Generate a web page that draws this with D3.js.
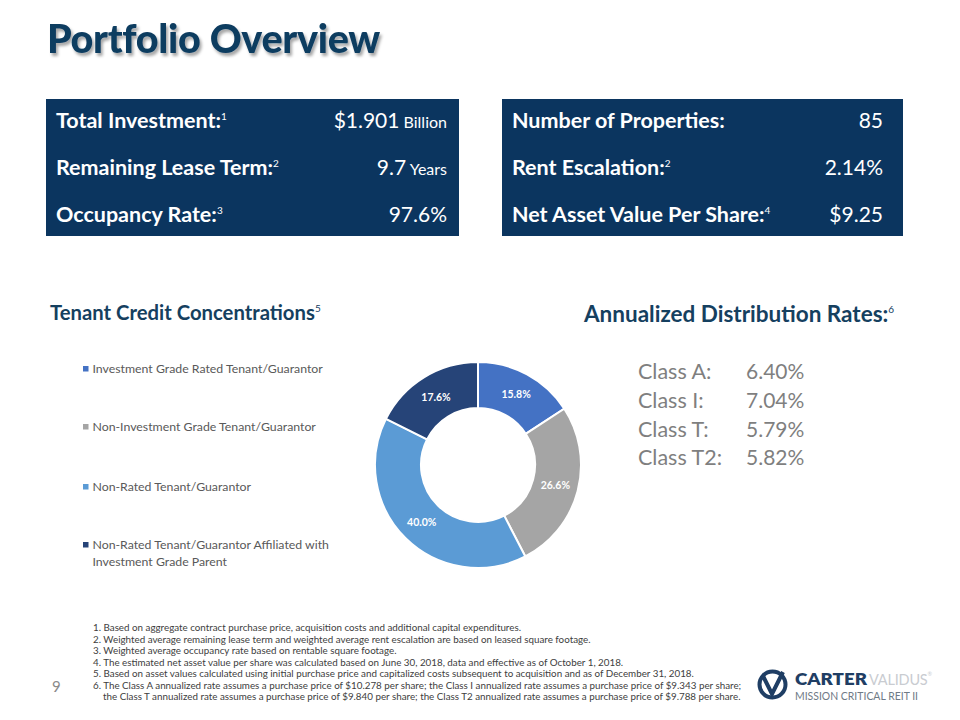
<!DOCTYPE html>
<html><head><meta charset="utf-8">
<script src="https://cdn.jsdelivr.net/npm/d3@7"></script>
<style>
body{margin:0;background:#fff;}
svg{display:block;font-family:Lato,"Open Sans",sans-serif;}
</style></head>
<body>
<svg id="c" width="960" height="720"></svg>
<script>
// ---- data ----
const categories = ["Investment Grade Rated Tenant/Guarantor","Non-Investment Grade Tenant/Guarantor","Non-Rated Tenant/Guarantor","Non-Rated Tenant/Guarantor Affiliated with|Investment Grade Parent"];
const shares = [15.8, 26.6, 40.0, 17.6];
const sliceColors = ["#4472C4","#A5A5A5","#5B9BD5","#264478"];
const leftLabels = ["Total Investment:","Remaining Lease Term:","Occupancy Rate:"];
const leftSup = ["1","2","3"];
const leftValues = ["$1.901","9.7","97.6%"];
const leftUnits = ["Billion","Years",""];
const rightLabels = ["Number of Properties:","Rent Escalation:","Net Asset Value Per Share:"];
const rightSup = ["","2","4"];
const rightValues = ["85","2.14%","$9.25"];
const classNames = ["Class A:","Class I:","Class T:","Class T2:"];
const classRates = ["6.40%","7.04%","5.79%","5.82%"];
const footnotes = [
"1. Based on aggregate contract purchase price, acquisition costs and additional capital expenditures.",
"2. Weighted average remaining lease term and weighted average rent escalation are based on leased square footage.",
"3. Weighted average occupancy rate based on rentable square footage.",
"4. The estimated net asset value per share was calculated based on June 30, 2018, data and effective as of October 1, 2018.",
"5. Based on asset values calculated using initial purchase price and capitalized costs subsequent to acquisition and as of December 31, 2018.",
"6. The Class A annualized rate assumes a purchase price of $10.278 per share; the Class I annualized rate assumes a purchase price of $9.343 per share;",
"    the Class T annualized rate assumes a purchase price of $9.840 per share; the Class T2 annualized rate assumes a purchase price of $9.788 per share."
];

const svg = d3.select("#c");
const navy = "#0B355F", headBlue = "#15405F";

// shadow filter
const defs = svg.append("defs");
const f = defs.append("filter").attr("id","sh").attr("x","-5%").attr("y","-20%").attr("width","115%").attr("height","160%");
f.append("feDropShadow").attr("dx",2).attr("dy",3).attr("stdDeviation",1.6).attr("flood-color","#000").attr("flood-opacity",0.35);

// Title
svg.append("text").attr("x",47).attr("y",53).attr("font-size",39.5).attr("font-weight",900)
  .attr("fill","#0E3C60").attr("filter","url(#sh)").attr("letter-spacing",-0.3).text("Portfolio Overview");

// Boxes
function box(x0,x1,labels,sups,values,units){
  svg.append("rect").attr("x",x0).attr("y",99).attr("width",x1-x0).attr("height",137).attr("fill",navy);
  const ys = [128,175,222];
  labels.forEach((l,i)=>{
    const t = svg.append("text").attr("x",x0+10).attr("y",ys[i]).attr("fill","#fff").attr("font-size",21.5).attr("font-weight",700).text(l);
    if(sups[i]) t.append("tspan").attr("font-size",10).attr("font-weight",400).attr("dy",-8).text(sups[i]);
    const v = svg.append("text").attr("x",x1-(units?12:20)).attr("y",ys[i]).attr("text-anchor","end").attr("fill","#fff").attr("font-size",21).text(values[i]);
    if(units && units[i]) v.append("tspan").attr("font-size",16).text(" "+units[i]);
  });
}
box(46,459,leftLabels,leftSup,leftValues,leftUnits);
box(502,903,rightLabels,rightSup,rightValues,null);

// Headings
const h1 = svg.append("text").attr("x",50).attr("y",320).attr("font-size",20.3).attr("font-weight",700).attr("fill",headBlue).text("Tenant Credit Concentrations");
h1.append("tspan").attr("font-size",10).attr("font-weight",400).attr("dy",-8).text("5");
const h2 = svg.append("text").attr("x",584).attr("y",322).attr("font-size",22.5).attr("font-weight",700).attr("fill",headBlue).text("Annualized Distribution Rates:");
h2.append("tspan").attr("font-size",10).attr("font-weight",400).attr("dy",-9).text("6");

// Legend
const legY = [369,427,487,545];
categories.forEach((c,i)=>{
  svg.append("rect").attr("x",83).attr("y",legY[i]-3).attr("width",5.5).attr("height",5.5).attr("fill",sliceColors[i]);
  const parts = c.split("|");
  parts.forEach((p,j)=>{
    svg.append("text").attr("x",92.5).attr("y",legY[i]+4+j*17).attr("font-size",12.3).attr("fill","#595959").text(p);
  });
});

// Donut
const cx=478, cy=465, rOut=103, rIn=57;
const pie = d3.pie().sort(null).value(d=>d);
const arcs = pie(shares);
const arc = d3.arc().innerRadius(rIn).outerRadius(rOut);
const labelArc = d3.arc().innerRadius(80).outerRadius(80);
const g = svg.append("g").attr("transform",`translate(${cx},${cy})`);
g.selectAll("path").data(arcs).join("path").attr("d",arc).attr("fill",(d,i)=>sliceColors[i])
  .attr("stroke","#fff").attr("stroke-width",2);
g.selectAll("text").data(arcs).join("text")
  .attr("transform",d=>`translate(${labelArc.centroid(d)})`)
  .attr("text-anchor","middle").attr("dy","0.35em").attr("font-size",10.5).attr("font-weight",700).attr("fill","#fff")
  .text(d=>d.data.toFixed(1)+"%");

// Class rates
const rateY = [379,408,437,465];
classNames.forEach((c,i)=>{
  svg.append("text").attr("x",638).attr("y",rateY[i]).attr("font-size",21.5).attr("fill","#7F7F7F").text(c);
  svg.append("text").attr("x",746).attr("y",rateY[i]).attr("font-size",21).attr("fill","#7F7F7F").text(classRates[i]);
});

// Footnotes
footnotes.forEach((t,i)=>{
  svg.append("text").attr("x",93).attr("y",631+i*11.5).attr("font-size",9.8).attr("fill","#404040")
    .attr("xml:space","preserve").style("white-space","pre").text(t);
});

// Page number
svg.append("text").attr("x",52).attr("y",692).attr("font-size",15).attr("fill","#8a8a8a").text("9");

// Logo
const lg = svg.append("g");
lg.append("circle").attr("cx",772.5).attr("cy",684.5).attr("r",13).attr("fill","none").attr("stroke","#1F3E64").attr("stroke-width",4);
lg.append("path").attr("d","M763,676 L772,694 L783,672").attr("fill","none").attr("stroke","#1F3E64").attr("stroke-width",4).attr("stroke-linejoin","miter");
lg.append("text").attr("x",795).attr("y",685).attr("font-size",16).attr("font-weight",800).attr("fill","#1F3E64")
  .attr("textLength",72).attr("lengthAdjust","spacingAndGlyphs").text("CARTER");
const vt = lg.append("text").attr("x",869).attr("y",685).attr("font-size",14.5).attr("font-weight",400).attr("fill","#C9CCD1")
  .attr("letter-spacing",-0.2).text("VALIDUS");
vt.append("tspan").attr("font-size",5.5).attr("dy",-9).text("®");
lg.append("text").attr("x",795).attr("y",700).attr("font-size",11.5).attr("fill","#6F7A86")
  .attr("textLength",123).attr("lengthAdjust","spacingAndGlyphs").text("MISSION CRITICAL REIT II");
</script>
</body></html>
